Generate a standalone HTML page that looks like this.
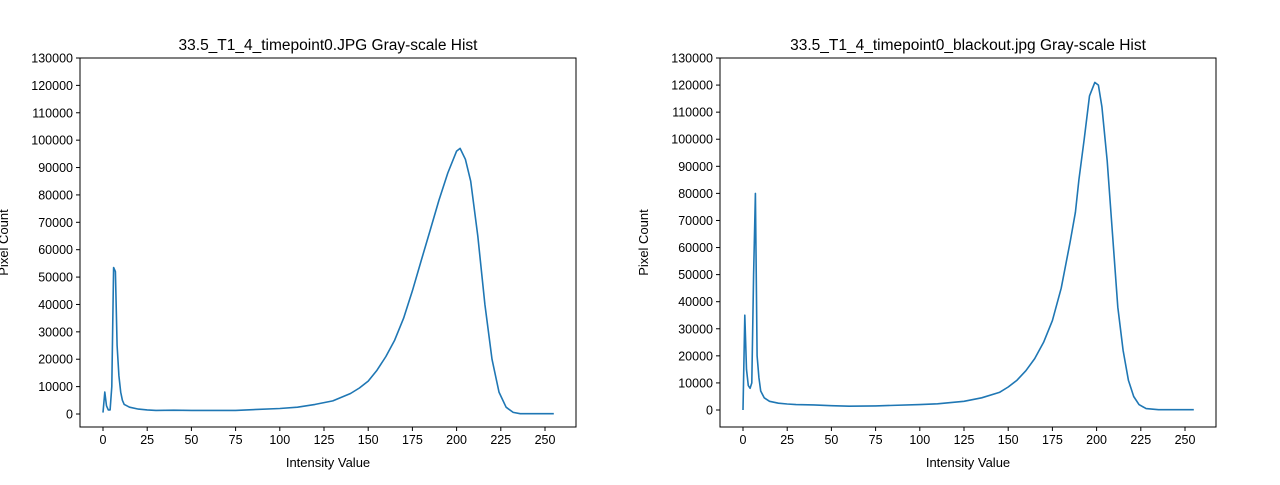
<!DOCTYPE html>
<html><head><meta charset="utf-8"><style>
body{margin:0;background:#fff;width:1280px;height:480px;overflow:hidden;font-family:"Liberation Sans",sans-serif}
</style></head><body>
<svg id="c" width="1280" height="480" xmlns="http://www.w3.org/2000/svg"></svg>
<script>
const xTicks=[0,25,50,75,100,125,150,175,200,225,250];
const yTicks=[0,10000,20000,30000,40000,50000,60000,70000,80000,90000,100000,110000,120000,130000];
const leftX=[0,1,2,3,4,5,6,7,8,9,10,11,12,15,20,25,30,40,50,75,100,110,120,130,140,145,150,155,160,165,170,175,180,185,190,195,200,202,205,208,212,216,220,224,228,232,236,255];
const leftY=[500,8000,3000,1500,1500,10000,53500,52000,25000,14000,8000,5000,3500,2500,1800,1500,1300,1400,1300,1300,2000,2500,3500,4800,7500,9500,12000,16000,21000,27000,35000,45000,56000,67000,78000,88000,96000,97000,93000,85000,65000,40000,20000,8000,2500,600,100,100];
const rightX=[0,1,2,3,4,5,6,7,8,9,10,12,15,20,25,30,40,50,60,75,100,110,125,135,145,150,155,160,165,170,175,180,185,188,190,193,196,199,201,203,206,209,212,215,218,221,224,228,235,255];
const rightY=[0,35000,15000,9000,8000,10000,50000,80000,20000,12000,7000,4500,3200,2500,2200,2000,1900,1600,1400,1500,2000,2300,3200,4500,6500,8500,11000,14500,19000,25000,33000,45000,62000,73000,85000,100000,116000,121000,120000,112000,92000,65000,38000,22000,11000,5000,2000,500,100,100];
const svg=document.getElementById('c');const NS='http://www.w3.org/2000/svg';
function mk(t,a,p){const e=document.createElementNS(NS,t);for(const k in a)e.setAttribute(k,a[k]);(p||svg).appendChild(e);return e;}
function panel(name,L,T,W,H,x0px,x250px,y0px,y130px,xs,ys,title){
 const g=mk('g',{});
 
 
 const sx=v=>x0px+(x250px-x0px)*v/250, sy=v=>y0px+(y130px-y0px)*v/130000;
 const fr=mk('rect',{x:L,y:T,width:W,height:H,fill:'none',stroke:'#000','stroke-width':1},g);
 
 xTicks.forEach(v=>{const x=sx(v);mk('line',{x1:x,x2:x,y1:T+H,y2:T+H+4,stroke:'#000'},g);
  const t=mk('text',{x:x,y:T+H+17,'font-size':12.5,'text-anchor':'middle'},g);t.textContent=v;
  });
 yTicks.forEach(v=>{const y=sy(v);mk('line',{x1:L-4,x2:L,y1:y,y2:y,stroke:'#000'},g);
  const t=mk('text',{x:L-7,y:y+4.5,'font-size':12.5,'text-anchor':'end'},g);t.textContent=v;
  });
 let d='';xs.forEach((v,i)=>{d+=(i?'L':'M')+sx(v).toFixed(1)+','+sy(ys[i]).toFixed(1);});
 const p=mk('path',{d:d,fill:'none',stroke:'#1f77b4','stroke-width':1.6,'stroke-linejoin':'round'},g);
 
 const tt=mk('text',{x:L+W/2,y:T-8,'font-size':15.5,'text-anchor':'middle'},g);tt.textContent=title;
 
 const xl=mk('text',{x:L+W/2,y:T+H+40,'font-size':13,'text-anchor':'middle'},g);xl.textContent='Intensity Value';
 
 const yl=mk('text',{x:0,y:0,'font-size':13,'text-anchor':'middle',transform:'translate('+(L-72)+','+(T+H/2)+') rotate(-90)'},g);yl.textContent='Pixel Count';
 
}
panel('left-panel',80,58,496,369,103,545,414,58,leftX,leftY,'33.5_T1_4_timepoint0.JPG Gray-scale Hist');
panel('right-panel',720,58,496,369,743,1185,410,58,rightX,rightY,'33.5_T1_4_timepoint0_blackout.jpg Gray-scale Hist');
</script>
</body></html>
